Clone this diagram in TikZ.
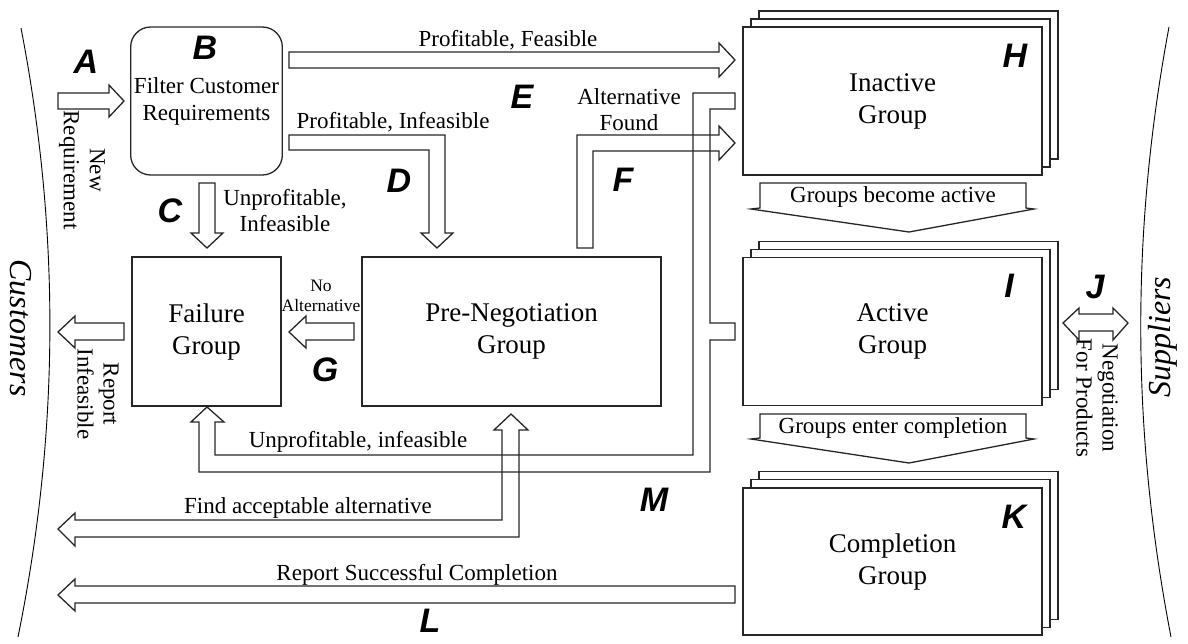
\documentclass[tikz,border=0pt]{standalone}
\usepackage{fontspec}
\setmainfont{Liberation Serif}
\setsansfont{Liberation Sans}
\begin{document}
\begin{tikzpicture}[x=1pt, y=-1pt,
    blk/.style={draw=black!85, line width=1.3pt, line join=miter},
    grp/.style={blk, fill=white, minimum width=299pt, minimum height=148pt, align=center, font=\fontsize{27}{32}\selectfont},
    sq/.style={grp, minimum width=149pt, minimum height=149pt},
    lbl/.style={align=center, inner sep=0pt, font=\fontsize{23}{26}\selectfont},
    tag/.style={inner sep=0pt, font=\fontsize{34}{34}\selectfont\sffamily\bfseries\itshape}]
    \useasboundingbox (0,0) rectangle (1188,643);

    % Customers and suppliers
    \draw[line width=0.9pt] (21,28) .. controls (60,230) and (60,430) .. (18,637);
    \draw[line width=0.9pt] (1169,27) .. controls (1131,230) and (1131,430) .. (1171,637);
    \node[rotate=-90, font=\fontsize{32}{32}\selectfont\itshape] (cust) at (21,328) {Customers};
    \node[rotate=90, font=\fontsize{32}{32}\selectfont\itshape] (supp) at (1163,337) {Suppliers};

    % Stacked groups
    \foreach \cy in {101,331.5,561.5}
        \foreach \s in {16,8}
            \draw[blk, fill=white] (743+\s,\cy-74-\s) rectangle ++(299,148);
    \node[grp] (inactive) at (892.5,101) {Inactive\\Group};
    \node[grp] (active) at (892.5,331.5) {Active\\Group};
    \node[grp, minimum height=147pt] (completion) at (892.5,561.5) {Completion\\Group};

    % Boxes
    \node[sq, minimum height=148pt, rounded corners=20pt, font=\fontsize{23}{27}\selectfont] (filter) at (206.5,101) {Filter Customer\\Requirements};
    \node[sq] (failure) at (206.5,331.5) {Failure\\Group};
    \node[grp, minimum height=149pt] (preneg) at (511.5,331.5) {Pre-Negotiation\\Group};

    % Block arrows
    \draw[blk] (58,93) -- (109,93) -- (109,85) -- (124,101) -- (109,117) -- (109,109) -- (58,109) -- cycle;
    \draw[blk] (289,52) -- (719,52) -- (719,43) -- (735,60) -- (719,77) -- (719,68) -- (289,68) -- cycle;
    \draw[blk] (289,135) -- (445,135) -- (445,233) -- (453,233) -- (437,248) -- (421,233) -- (429,233) -- (429,150) -- (289,150) -- cycle;
    \draw[blk] (199,183) -- (215,183) -- (215,233) -- (223,233) -- (207,248) -- (191,233) -- (199,233) -- cycle;
    \draw[blk] (577,248) -- (577,135) -- (719,135) -- (719,126) -- (735,143) -- (719,160) -- (719,151) -- (593,151) -- (593,248) -- cycle;
    \draw[blk] (354,323) -- (306,323) -- (306,316) -- (289,332) -- (306,348) -- (306,340) -- (354,340) -- cycle;
    \draw[blk] (124,323) -- (75,323) -- (75,316) -- (58,332) -- (75,348) -- (75,340) -- (124,340) -- cycle;
    \draw[blk] (207,407) -- (224,422) -- (215,422) -- (215,455) -- (693,455) -- (693,93) -- (735,93) -- (735,109) -- (710,109)
        -- (710,323) -- (735,323) -- (735,340) -- (710,340) -- (710,472) -- (199,472) -- (199,422) -- (191,422) -- cycle;
    \draw[blk] (511,414) -- (528,430) -- (519,430) -- (519,537) -- (75,537) -- (75,546) -- (58,529) -- (75,513) -- (75,520)
        -- (502,520) -- (502,430) -- (494,430) -- cycle;
    \draw[blk] (735,586) -- (75,586) -- (75,579) -- (58,595) -- (75,611) -- (75,603) -- (735,603) -- cycle;
    \draw[blk] (760,183) -- (1026,183) -- (1026,208) -- (1034,209) -- (909,232) -- (751,209) -- (760,208) -- cycle;
    \draw[blk] (760,414) -- (1026,414) -- (1026,438) -- (1034,439) -- (909,463) -- (751,439) -- (760,438) -- cycle;
    \draw[blk] (1063,323) -- (1079,308) -- (1079,314) -- (1113,314) -- (1113,308) -- (1128,323) -- (1113,340) -- (1113,331)
        -- (1079,331) -- (1079,340) -- cycle;

    % Labels
    \node[lbl] (pf) at (508,40) {Profitable, Feasible};
    \node[lbl] (pi) at (393,122) {Profitable, Infeasible};
    \node[lbl] (af) at (629,110) {Alternative\\Found};
    \node[lbl] (ui) at (285,211) {Unprofitable,\\Infeasible};
    \node[lbl, font=\fontsize{17.5}{20}\selectfont] (na) at (321,296) {No\\Alternative};
    \node[lbl] (gba) at (893,197) {Groups become active};
    \node[lbl] (gec) at (893,428) {Groups enter completion};
    \node[lbl] (uil) at (358,442) {Unprofitable, infeasible};
    \node[lbl] (faa) at (308,508) {Find acceptable alternative};
    \node[lbl] (rsc) at (417,575) {Report Successful Completion};
    \node[lbl, rotate=-90] (newreq) at (82,170) {New\\Requirement};
    \node[lbl, rotate=-90] (repinf) at (98,394) {Report\\Infeasible};
    \node[lbl, rotate=-90] (negprod) at (1097,398) {Negotiation\\For Products};

    % Letters
    \foreach \n/\x/\y in {A/86/62, B/205/48, C/170/211, D/399/181, E/522/97, F/623/180, G/325/370,
        H/1015/56, I/1009/286, J/1095/287, K/1014/517, L/430/621, M/654/500}
        \node[tag] (tag\n) at (\x,\y) {\n};
\end{tikzpicture}
\end{document}
